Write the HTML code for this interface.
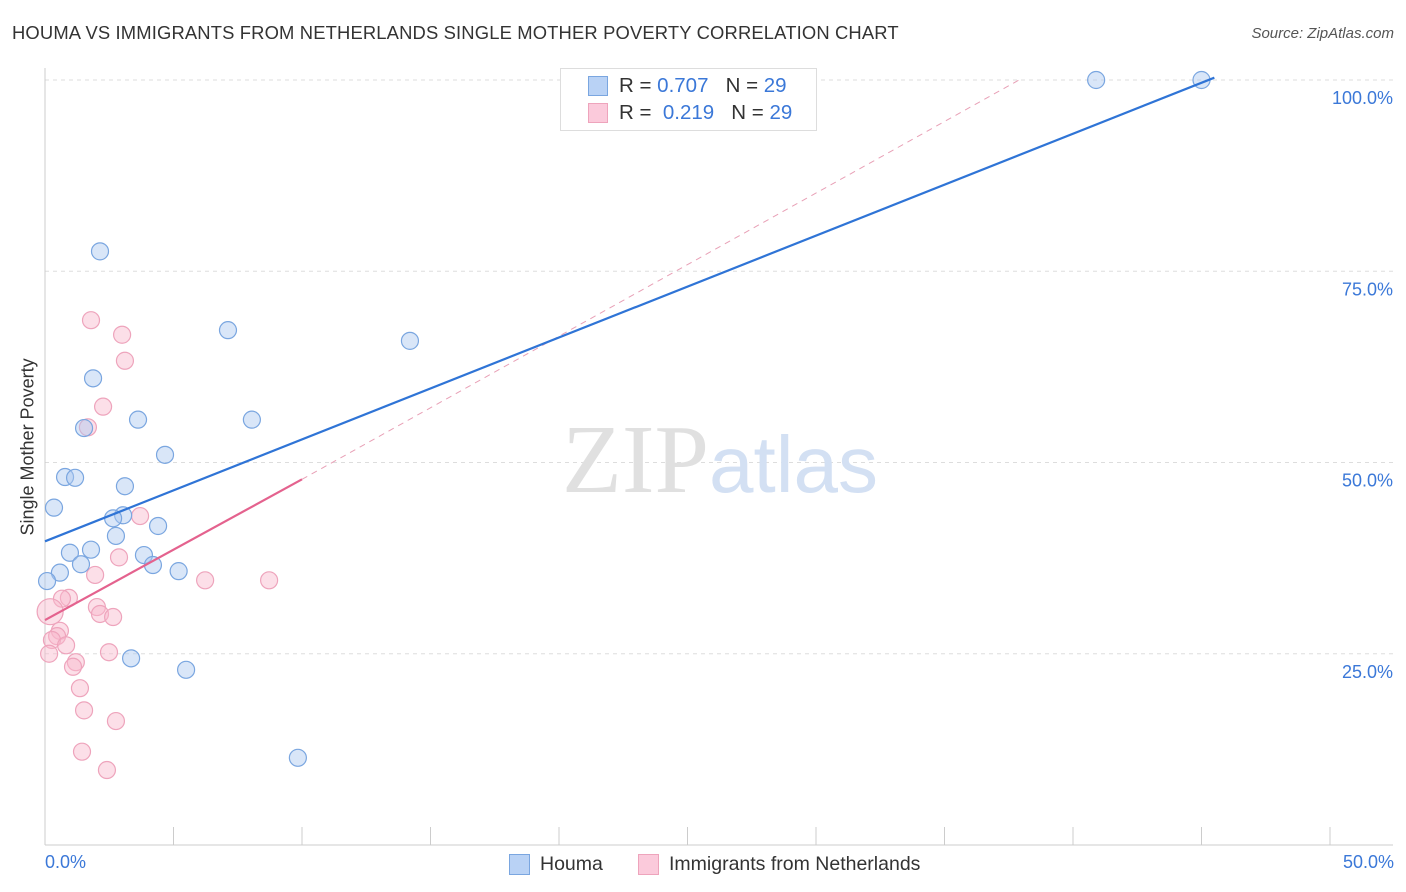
<!DOCTYPE html>
<html><head><meta charset="utf-8">
<style>
body{margin:0;background:#fff;font-family:"Liberation Sans",sans-serif;}
#wrap{position:relative;width:1406px;height:892px;overflow:hidden;}
.t{position:absolute;white-space:nowrap;}
</style></head>
<body>
<div id="wrap">
<div class="t" style="left:12px;top:22px;font-size:18.4px;color:#333;letter-spacing:0.15px;">HOUMA VS IMMIGRANTS FROM NETHERLANDS SINGLE MOTHER POVERTY CORRELATION CHART</div>
<div class="t" style="right:12px;top:25px;font-size:15px;color:#555;font-style:italic;">Source: ZipAtlas.com</div>
<svg id="svg" width="1406" height="892" style="position:absolute;left:0;top:0"></svg>
</div>
<script>
const xTicks=[0,5,10,15,20,25,30,35,40,45,50];
const yTicks=[25,50,75,100];
const yTickLabels=["25.0%","50.0%","75.0%","100.0%"];
const houmaX=[40.9,45,2.14,7.12,14.2,1.87,3.62,8.05,1.52,4.67,0.78,1.17,3.11,0.35,3.04,2.65,4.4,2.76,0.97,1.79,3.85,1.4,4.2,5.2,0.58,0.08,3.35,5.49,9.84];
const houmaY=[100,100,77.6,67.3,65.9,61,55.6,55.6,54.5,51,48.1,48,46.9,44.1,43.1,42.7,41.7,40.4,38.2,38.6,37.9,36.7,36.6,35.8,35.6,34.5,24.4,22.9,11.4];
const nethX=[1.79,3.0,3.11,2.26,1.67,3.7,2.88,1.95,6.23,8.72,0.93,0.66,0.2,2.02,2.14,2.65,0.58,0.47,0.27,0.82,0.16,2.49,1.2,1.09,1.36,1.52,2.76,1.44,2.41];
const nethY=[68.6,66.7,63.3,57.3,54.6,43,37.6,35.3,34.6,34.6,32.3,32.2,30.5,31.1,30.2,29.8,28,27.3,26.8,26.1,25,25.2,23.9,23.3,20.5,17.6,16.2,12.2,9.8];
const nethR=[8.5,8.5,8.5,8.5,8.5,8.5,8.5,8.5,8.5,8.5,8.5,8.5,13,8.5,8.5,8.5,8.5,8.5,8.5,8.5,8.5,8.5,8.5,8.5,8.5,8.5,8.5,8.5,8.5];
const houmaLine=[[0,39.7],[45.5,100.3]];
const nethLine=[[0,29.4],[10,47.8]];
const nethDash=[[10,47.8],[37.9,100]];
const X=v=>45+v*25.7, Y=v=>845-v*7.65;
const svg=document.getElementById('svg');
const NS='http://www.w3.org/2000/svg';
function mk(tag,attrs,parent){const e=document.createElementNS(NS,tag);for(const k in attrs)e.setAttribute(k,attrs[k]);(parent||svg).appendChild(e);return e;}
yTicks.forEach((t,i)=>{
 const g=mk('line',{x1:45,x2:1393,y1:Y(t),y2:Y(t),stroke:'#ddd','stroke-dasharray':'4,4'});
 
 
 const tx=mk('text',{x:1393,y:Y(t)+24,'text-anchor':'end','font-size':18,fill:'#3b78d8','font-family':'Liberation Sans'});
 tx.textContent=yTickLabels[i];
 
 
});
const ax=mk('line',{x1:45,x2:45,y1:68,y2:845,stroke:'#ccc'});


const ax2=mk('line',{x1:45,x2:1393,y1:845,y2:845,stroke:'#ccc'});


xTicks.forEach(t=>{
 const l=mk('line',{x1:X(t),x2:X(t),y1:827,y2:845,stroke:'#ccc'});
 
 
});
const wm=mk('text',{x:720,y:492,'text-anchor':'middle','font-size':98,fill:'#e0e0e0','font-family':'Liberation Serif'});
wm.innerHTML='ZIP<tspan font-family="Liberation Sans" font-size="80" fill="#d3e0f3">atlas</tspan>';


function pts(xs,ys,rs,fill,stroke,name){xs.forEach((x,i)=>{
 const c=mk('circle',{cx:X(x),cy:Y(ys[i]),r:rs?rs[i]:8.5,fill:fill,stroke:stroke,'stroke-width':1.2});
 
 
});}
pts(nethX,nethY,nethR,'rgba(248,183,204,0.45)','#eea4bc','point-netherlands');
pts(houmaX,houmaY,null,'rgba(170,200,240,0.45)','#7aa6e0','point-houma');
function ln(p,st,w,d,name){const l=mk('line',{x1:X(p[0][0]),y1:Y(p[0][1]),x2:X(p[1][0]),y2:Y(p[1][1]),stroke:st,'stroke-width':w});if(d)l.setAttribute('stroke-dasharray',d);
 
 }
ln(nethDash,'#e8a0b6',1,'6,5','netherlands-trend-extension');
ln(houmaLine,'#2f74d6',2.2,null,'houma-trend-line');
ln(nethLine,'#e4628e',2.2,null,'netherlands-trend-line');
</script>
<div style="position:absolute;left:560px;top:68px;width:255px;height:61px;border:1px solid #ddd;background:#fff;"></div>
<div style="position:absolute;left:588px;top:76px;width:18px;height:18px;background:#b9d2f5;border:1px solid #7aa6e0;"></div>
<div class="t" style="left:619px;top:74px;font-size:20.5px;color:#333;">R = <span style="color:#3b78d8">0.707</span>&nbsp;&nbsp;&nbsp;N = <span style="color:#3b78d8">29</span></div>
<div style="position:absolute;left:588px;top:103px;width:18px;height:18px;background:#fbcadb;border:1px solid #eea4bc;"></div>
<div class="t" style="left:619px;top:101px;font-size:20.5px;color:#333;">R = &nbsp;<span style="color:#3b78d8">0.219</span>&nbsp;&nbsp;&nbsp;N = <span style="color:#3b78d8">29</span></div>
<div class="t" style="left:-52px;top:445px;font-size:18px;color:#333;transform:rotate(-90deg);width:160px;text-align:center;">Single Mother Poverty</div>
<div class="t" style="left:45px;top:852px;font-size:18px;color:#3b78d8;">0.0%</div>
<div class="t" style="right:12px;top:852px;font-size:18px;color:#3b78d8;">50.0%</div>
<div style="position:absolute;left:509px;top:854px;width:19px;height:19px;background:#b9d2f5;border:1px solid #7aa6e0;"></div>
<div class="t" style="left:540px;top:853px;font-size:19.5px;color:#333;">Houma</div>
<div style="position:absolute;left:638px;top:854px;width:19px;height:19px;background:#fbcadb;border:1px solid #eea4bc;"></div>
<div class="t" style="left:669px;top:853px;font-size:19.5px;color:#333;">Immigrants from Netherlands</div>
</body></html>
